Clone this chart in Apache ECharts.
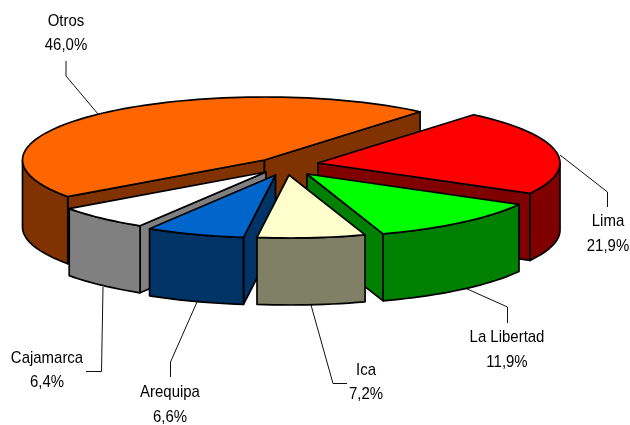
<!DOCTYPE html>
<html>
<head>
<meta charset="utf-8">
<style>
html, body { margin: 0; padding: 0; background: #fff; }
#main { width: 630px; height: 425px; }
</style>
<script src="https://cdn.jsdelivr.net/npm/echarts@6/dist/echarts.min.js"></script>
</head>
<body>
<div id="main"></div>
<script>
// chart data, clockwise from the first slice
var categories = ['Lima', 'La Libertad', 'Ica', 'Arequipa', 'Cajamarca', 'Otros'];
var values = [21.9, 11.9, 7.2, 6.6, 6.4, 46.0];

// look of the slices
var topColors = ['#FF0000', '#00FF00', '#FFFFCC', '#0066CC', '#FFFFFF', '#FF6600'];
var sideColors = ['#800000', '#008000', '#808066', '#003366', '#808080', '#803300'];

// back to front
var drawOrder = [5, 0, 1, 4, 3, 2];

// flattened pie geometry
var startAngle = 50;
var rx = 242, ry = 63, depth = 67;
var apexes = [[318, 163], [307, 174], [289, 175], [275.5, 175], [266, 172], [264.5, 160]];

// label text centres and leader lines
var labelPos = [[608, 234], [507, 350], [366, 382.5], [170, 405], [47, 370.5], [66, 33.5]];
var leaders = [
    [[560, 155], [607.5, 192], [607.5, 207]],
    [[465, 288], [507.5, 307], [507.5, 323]],
    [[311, 305], [333, 383.5], [347, 383.5]],
    [[197, 302], [170.5, 362], [170.5, 377]],
    [[103, 287], [101.5, 371.5], [86, 371.5]],
    [[66, 61], [66, 76], [98, 114]]
];

var total = values.reduce(function (a, b) { return a + b; }, 0);
var sweeps = values.map(function (v) { return v / total * 360; });

function pt(i, deg, drop) {
    var r = deg * Math.PI / 180;
    return [apexes[i][0] + rx * Math.cos(r), apexes[i][1] - ry * Math.sin(r) + (drop || 0)];
}

// points along the rim from angle a to angle b
function arc(i, a, b, drop) {
    var pts = [];
    var n = Math.max(2, Math.ceil(Math.abs(a - b) / 2));
    for (var k = 0; k <= n; k++) {
        pts.push(pt(i, a + (b - a) * k / n, drop));
    }
    return pts;
}

function poly(points, color) {
    return {
        type: 'polygon',
        shape: { points: points },
        style: { fill: color, stroke: '#000', lineWidth: 1.7, lineJoin: 'round' }
    };
}

function face(i, deg) {
    var a = apexes[i], p = pt(i, deg);
    return poly([a, p, [p[0], p[1] + depth], [a[0], a[1] + depth]], sideColors[i]);
}

function renderSlice(params, api) {
    var i = api.value(0);
    var a0 = startAngle;
    for (var k = 0; k < i; k++) a0 -= sweeps[k];
    var a1 = a0 - sweeps[i];
    var kids = [];

    // cut faces, only those that turn to the viewer
    if (Math.cos(a0 * Math.PI / 180) < 0) kids.push(face(i, a0));
    if (Math.cos(a1 * Math.PI / 180) > 0) kids.push(face(i, a1));

    // outer wall, front half of the rim only
    var lo = Math.max(a1, -180), hi = Math.min(a0, 0);
    if (hi > lo) {
        var wall = arc(i, hi, lo, 0).concat(arc(i, lo, hi, depth));
        kids.push(poly(wall, sideColors[i]));
    }

    // top
    kids.push(poly([apexes[i]].concat(arc(i, a0, a1, 0)), topColors[i]));

    return { type: 'group', children: kids };
}

function renderLabel(params, api) {
    var i = api.value(0);
    var line = {
        type: 'polyline',
        shape: { points: leaders[i] },
        style: { fill: null, stroke: '#111', lineWidth: 1 }
    };
    // the original type is a narrow Arial, so squeeze Liberation Sans a bit
    var text = {
        type: 'text',
        x: labelPos[i][0],
        y: labelPos[i][1],
        scaleX: 0.88,
        style: {
            x: 0,
            y: 0,
            text: categories[i] + '\n' + values[i].toFixed(1).replace('.', ',') + '%',
            fill: '#000',
            font: '17px "Liberation Sans", Arial, sans-serif',
            lineHeight: 24.5,
            align: 'center',
            verticalAlign: 'middle'
        }
    };
    return { type: 'group', children: [line, text] };
}

var sliceData = drawOrder.map(function (i) { return [i, values[i]]; });
var labelData = categories.map(function (c, i) { return [i, values[i]]; });

var chart = echarts.init(document.getElementById('main'));
chart.setOption({
    backgroundColor: '#fff',
    animation: false,
    series: [
        { type: 'custom', coordinateSystem: 'none', renderItem: renderLabel, data: labelData, z: 1, silent: true },
        { type: 'custom', coordinateSystem: 'none', renderItem: renderSlice, data: sliceData, z: 2, silent: true }
    ]
});
</script>
</body>
</html>
